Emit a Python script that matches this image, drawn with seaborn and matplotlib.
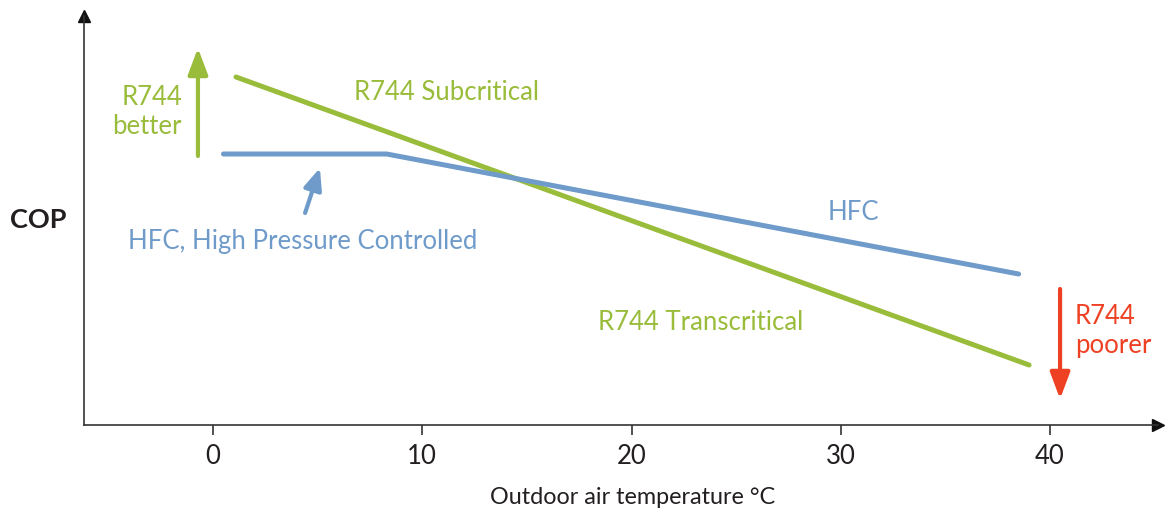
import pandas as pd
import numpy as np
import matplotlib
matplotlib.use("Agg")
import matplotlib.pyplot as plt
import seaborn as sns

# COP curves (arbitrary COP units) vs outdoor air temperature (°C)
temp_r744 = [1.1, 39.0]
cop_r744 = [3.48, 0.60]
temp_hfc = [0.5, 8.3, 38.5]
cop_hfc = [2.71, 2.71, 1.51]
x_ticks = [0, 10, 20, 30, 40]

green = '#99BC3B'
blue = '#6F9BCA'
red = '#EE4124'
dark = '#231F20'

df = pd.concat([
    pd.DataFrame({'temp': temp_r744, 'cop': cop_r744, 'series': 'R744'}),
    pd.DataFrame({'temp': temp_hfc, 'cop': cop_hfc, 'series': 'HFC'}),
])

sns.set_style('white')
plt.rcParams['font.family'] = ['Lato', 'DejaVu Sans']

fig = plt.figure(figsize=(11.66, 5.15), dpi=100)
ax = fig.add_axes([84 / 1166, 90 / 515, (1158 - 84) / 1166, (425 - 16) / 515])

sns.lineplot(data=df, x='temp', y='cop', hue='series', palette={'R744': green, 'HFC': blue},
             linewidth=3.6, legend=False, ax=ax, solid_capstyle='round', sort=False)

ax.set_xlim(-6.165, 45.16)
ax.set_ylim(0, 4.09)
ax.set_xticks(x_ticks)
ax.set_yticks([])
ax.set_xlabel('')
ax.set_ylabel('')
for s in ['top', 'right']:
    ax.spines[s].set_visible(False)
for s in ['left', 'bottom']:
    ax.spines[s].set_color('#333333')
    ax.spines[s].set_linewidth(1.2)
ax.tick_params(axis='x', direction='out', length=7, width=1.2, color='#333333', pad=7,
               labelsize=18.5, labelcolor=dark, bottom=True)

# axis arrow heads
ax.plot(1, 0, '>', color='#111111', markersize=9, transform=ax.transAxes, clip_on=False)
ax.plot(0, 1, '^', color='#111111', markersize=9, transform=ax.transAxes, clip_on=False)

fs = 18.5
head = '-|>,head_length=1.6,head_width=0.6'
# annotations
ax.text(-1.48, 3.13, 'R744\nbetter', color=green, fontsize=fs, ha='right', va='center', linespacing=1.2)
ax.annotate('', xy=(-0.72, 3.77), xytext=(-0.72, 2.69),
            arrowprops=dict(arrowstyle=head, color=green, lw=3, shrinkA=0, shrinkB=0))
ax.text(6.74, 3.33, 'R744 Subcritical', color=green, fontsize=fs, ha='left', va='center')
ax.text(29.39, 2.12, 'HFC', color=blue, fontsize=fs, ha='left', va='center')
ax.text(-4.06, 1.84, 'HFC, High Pressure Controlled', color=blue, fontsize=fs, ha='left', va='center')
ax.annotate('', xy=(5.11, 2.57), xytext=(4.40, 2.12),
            arrowprops=dict(arrowstyle='-|>,head_length=1.3,head_width=0.55', color=blue, lw=3,
                            shrinkA=0, shrinkB=0))
ax.text(18.40, 1.02, 'R744 Transcritical', color=green, fontsize=fs, ha='left', va='center')
ax.text(41.19, 0.94, 'R744\npoorer', color=red, fontsize=fs, ha='left', va='center', linespacing=1.2)
ax.annotate('', xy=(40.48, 0.26), xytext=(40.48, 1.36),
            arrowprops=dict(arrowstyle=head, color=red, lw=3, shrinkA=0, shrinkB=0))

fig.text(10 / 1166, 1 - 220 / 515, 'COP', fontsize=19.5, fontweight='bold', color=dark,
         ha='left', va='center')
fig.text(633 / 1166, 1 - 497 / 515, 'Outdoor air temperature °C', fontsize=16.8, color=dark,
         ha='center', va='center')

fig.savefig('out.png', dpi=100)
